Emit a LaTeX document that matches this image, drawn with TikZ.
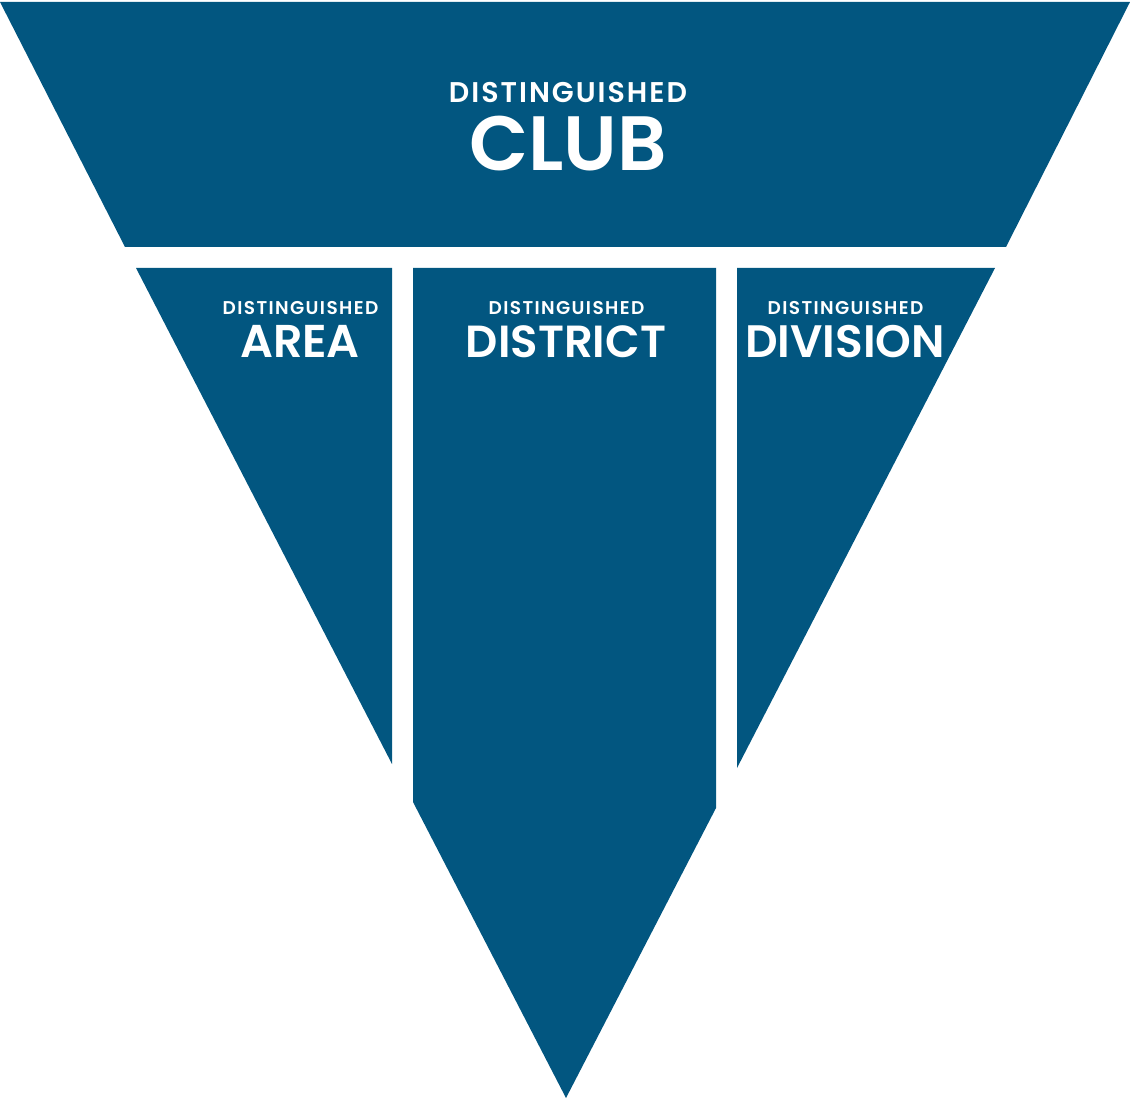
\documentclass[tikz,border=0pt]{standalone}
\usepackage{fontspec}
\setmainfont{Poppins}[BoldFont={* SemiBold}]
\definecolor{tmblue}{RGB}{2,86,128}
\begin{document}
\begin{tikzpicture}[x=1pt,y=-1pt,
  panel/.style={fill=tmblue,draw=none},
  small/.style={text=white,anchor=base,inner sep=0pt,font=\bfseries\fontsize{18.5}{20}\selectfont\addfontfeature{LetterSpace=7.5}},
  big/.style={text=white,anchor=base,inner sep=0pt,font=\bfseries\fontsize{46}{48}\selectfont}]
\useasboundingbox (0,0) rectangle (1130,1099);
% club trapezoid
\fill[panel] (0,2) -- (1130,2) -- (1006,247) -- (125,247) -- cycle;
% area
\fill[panel] (136,268) -- (392,268) -- (392,764) -- cycle;
% district
\fill[panel] (413,268) -- (716,268) -- (716,808) -- (566,1098) -- (413,802) -- cycle;
% division
\fill[panel] (737,268) -- (995,268) -- (737,768) -- cycle;
% texts
\node[small,font=\bfseries\fontsize{28.5}{30}\selectfont\addfontfeature{LetterSpace=7}] (clubsub) at (568,103) {DISTINGUISHED};
\node[big,font=\bfseries\fontsize{77}{80}\selectfont] (club) at (568,171) {CLUB};
\node[small] (areasub) at (300.5,315) {DISTINGUISHED};
\node[big] (area) at (300,357) {AREA};
\node[small] (distsub) at (566.5,315) {DISTINGUISHED};
\node[big,font=\bfseries\fontsize{45}{48}\selectfont] (dist) at (566,357) {DISTRICT};
\node[small] (divsub) at (845.5,315) {DISTINGUISHED};
\node[big,font=\bfseries\fontsize{45.5}{48}\selectfont] (div) at (845,357) {DIVISION};
\end{tikzpicture}
\end{document}
